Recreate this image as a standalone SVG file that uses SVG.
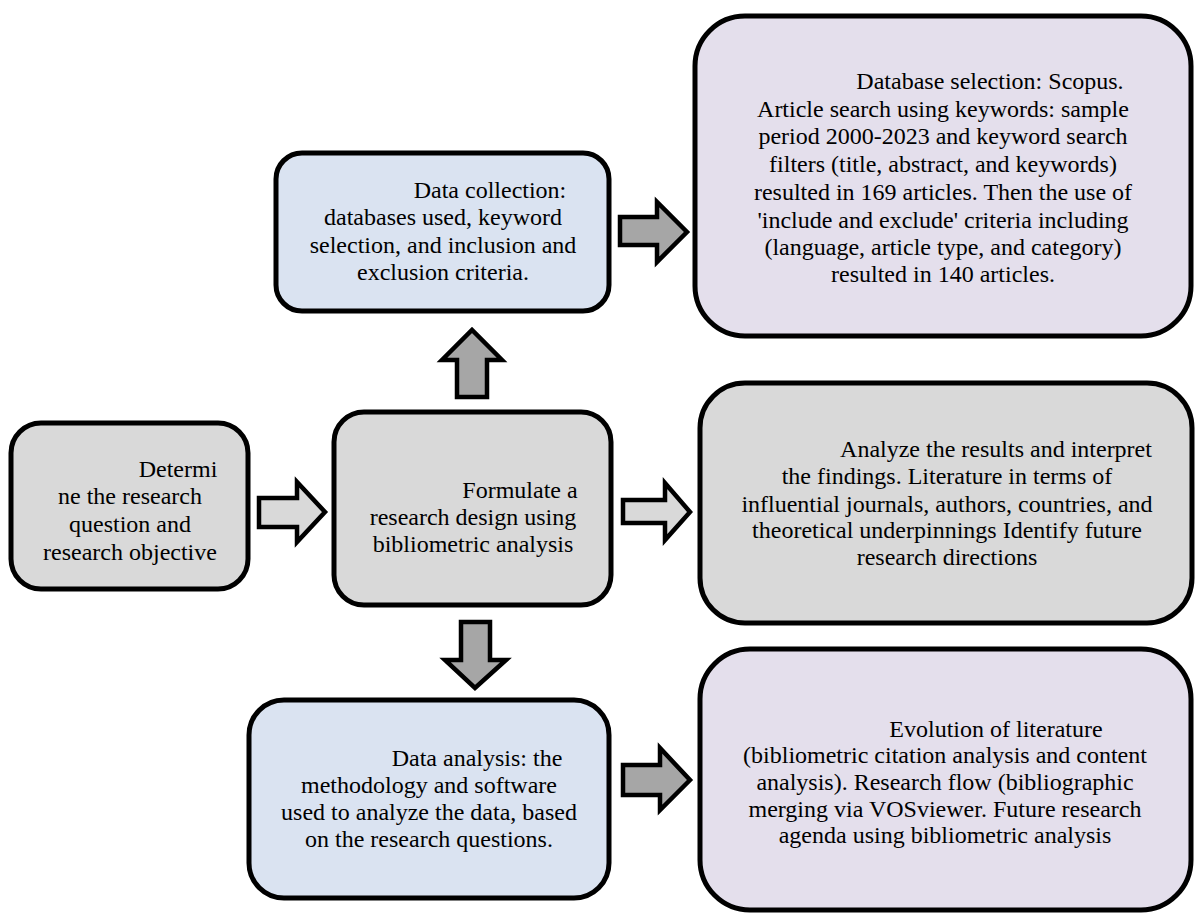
<svg xmlns="http://www.w3.org/2000/svg" width="1196" height="916" viewBox="0 0 1196 916">
<style>
.box{stroke:#000;stroke-width:5}
.gray{fill:#d9d9d9}
.blue{fill:#dae3f1}
.purple{fill:#e4dfec}
.arr{stroke:#000;stroke-width:4.5;stroke-linejoin:miter}
.al{fill:#d9d9d9}
.ad{fill:#a6a6a6}
text{font-family:"Liberation Serif","Times New Roman",serif;font-size:24px;fill:#000;text-anchor:middle}
</style>
<rect width="1196" height="916" fill="#fff"/>
<g id="connectors">
<polygon class="arr al" points="259,498 297,498 297,482 325,512 297,542 297,527 259,527"/>
<polygon class="arr ad" points="457,397 457,360 442,360 472,330 502,360 487,360 487,397"/>
<polygon class="arr ad" points="620,217 657,217 657,202 687,232 657,262 657,245 620,245"/>
<polygon class="arr al" points="623,500 665,500 665,483 690,512 665,540 665,523 623,523"/>
<polygon class="arr ad" points="461,622 490,622 490,660 506,660 475,688 445,660 461,660"/>
<polygon class="arr ad" points="623,765 660,765 660,748 690,780 660,810 660,795 623,795"/>
</g>
<g id="determine">
<rect class="box gray" x="11" y="423" width="237" height="166" rx="30"/>
<text x="178" y="477">Determi</text>
<text x="130" y="504">ne the research</text>
<text x="130" y="532">question and</text>
<text x="130" y="560">research objective</text>
</g>
<g id="formulate">
<rect class="box gray" x="334" y="412" width="277" height="193" rx="30"/>
<text x="520" y="498">Formulate a</text>
<text x="473" y="525">research design using</text>
<text x="473" y="552">bibliometric analysis</text>
</g>
<g id="collection">
<rect class="box blue" x="276" y="153" width="333" height="158" rx="26"/>
<text x="490" y="198">Data collection:</text>
<text x="443" y="225">databases used, keyword</text>
<text x="443" y="253">selection, and inclusion and</text>
<text x="443" y="280">exclusion criteria.</text>
</g>
<g id="database">
<rect class="box purple" x="695" y="16" width="496" height="320" rx="50"/>
<text x="990" y="89">Database selection: Scopus.</text>
<text x="943" y="117">Article search using keywords: sample</text>
<text x="943" y="144">period 2000-2023 and keyword search</text>
<text x="943" y="172">filters (title, abstract, and keywords)</text>
<text x="943" y="200">resulted in 169 articles. Then the use of</text>
<text x="943" y="228">'include and exclude' criteria including</text>
<text x="943" y="255">(language, article type, and category)</text>
<text x="943" y="282">resulted in 140 articles.</text>
</g>
<g id="analyze">
<rect class="box gray" x="700" y="383" width="492" height="240" rx="45"/>
<text x="996" y="457">Analyze the results and interpret</text>
<text x="947" y="484">the findings. Literature in terms of</text>
<text x="947" y="512">influential journals, authors, countries, and</text>
<text x="947" y="538">theoretical underpinnings Identify future</text>
<text x="947" y="565">research directions</text>
</g>
<g id="analysis">
<rect class="box blue" x="249" y="700" width="360" height="198" rx="35"/>
<text x="477" y="766">Data analysis: the</text>
<text x="429" y="793">methodology and software</text>
<text x="429" y="820">used to analyze the data, based</text>
<text x="429" y="847">on the research questions.</text>
</g>
<g id="evolution">
<rect class="box purple" x="700" y="649" width="491" height="261" rx="50"/>
<text x="996" y="737">Evolution of literature</text>
<text x="945" y="763">(bibliometric citation analysis and content</text>
<text x="945" y="790">analysis). Research flow (bibliographic</text>
<text x="945" y="817">merging via VOSviewer. Future research</text>
<text x="945" y="843">agenda using bibliometric analysis</text>
</g>
</svg>
